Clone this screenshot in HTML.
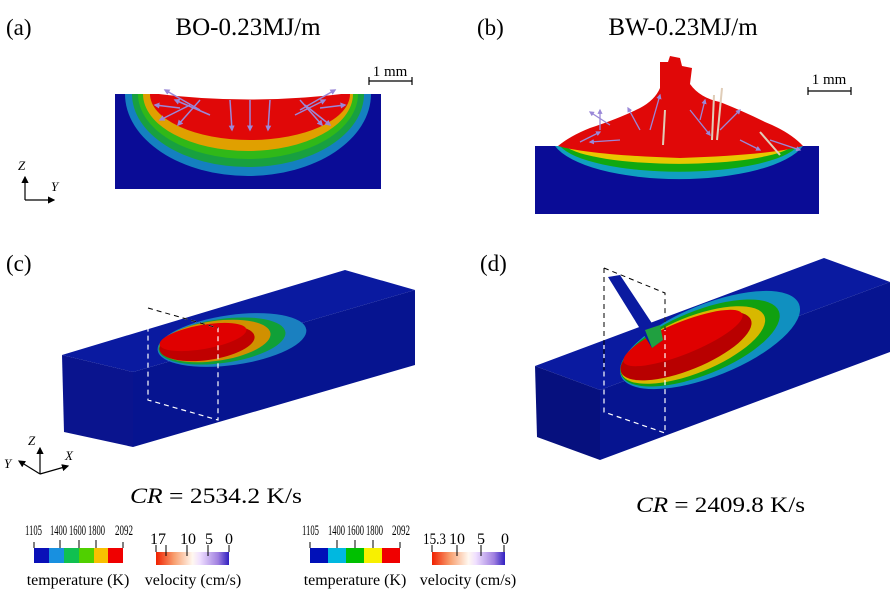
<!DOCTYPE html>
<html><head><meta charset="utf-8"><style>
html,body{margin:0;padding:0;background:#fff}
svg{display:block;font-family:"Liberation Serif",serif}
</style></head><body>
<svg width="892" height="592" viewBox="0 0 892 592">
<defs>
<linearGradient id="velA" x1="0" x2="1"><stop offset="0" stop-color="#f02000"/><stop offset="0.25" stop-color="#f8a070"/><stop offset="0.5" stop-color="#fff8f0"/><stop offset="0.6" stop-color="#f0e0ff"/><stop offset="0.85" stop-color="#a080e0"/><stop offset="1" stop-color="#3020c0"/></linearGradient>
<marker id="ah" markerWidth="6" markerHeight="6" refX="5" refY="3" orient="auto"><path d="M0,0L6,3L0,6z" fill="#000"/></marker>
<marker id="la" markerWidth="4" markerHeight="4" refX="3" refY="2" orient="auto"><path d="M0,0L4,2L0,4z" fill="#9a88d8"/></marker>
</defs>

<text x="6" y="35" font-size="23">(a)</text>
<text x="477" y="35" font-size="23">(b)</text>
<text x="6" y="271" font-size="23">(c)</text>
<text x="480" y="271" font-size="23">(d)</text>
<text x="248" y="35" font-size="25" text-anchor="middle">BO-0.23MJ/m</text>
<text x="683" y="35" font-size="25" text-anchor="middle">BW-0.23MJ/m</text>

<g>
<rect x="115" y="94" width="266" height="95" fill="#0a0c96"/>
<path d="M125,94 A123,82 0 0 0 371,94Z" fill="#1480c0"/>
<path d="M132,94 A116,73 0 0 0 364,94Z" fill="#18a040"/>
<path d="M138,94 A110,65 0 0 0 358,94Z" fill="#30b818"/>
<path d="M143,94 A105,57 0 0 0 353,94Z" fill="#e0a000"/>
<path d="M150,94 A100,46 0 0 0 350,94Z" fill="#e00808"/>
<path d="M150,93 Q250,106 350,93Z" fill="#fff"/>
<g stroke="#9a88d8" stroke-width="1.5" marker-end="url(#la)">
<line x1="200" y1="110" x2="165" y2="90"/><line x1="210" y1="115" x2="175" y2="100"/><line x1="190" y1="105" x2="160" y2="120"/>
<line x1="300" y1="110" x2="335" y2="90"/><line x1="295" y1="115" x2="325" y2="100"/><line x1="305" y1="105" x2="330" y2="125"/>
<line x1="180" y1="108" x2="155" y2="105"/><line x1="320" y1="108" x2="345" y2="105"/>
<line x1="230" y1="100" x2="232" y2="130"/><line x1="250" y1="100" x2="250" y2="130"/><line x1="270" y1="100" x2="268" y2="130"/>
<line x1="200" y1="100" x2="178" y2="125"/><line x1="300" y1="100" x2="322" y2="125"/>
</g>
</g>
<g>
<text x="390" y="76" font-size="15" text-anchor="middle">1 mm</text>
<path d="M369,81H412M369,77V85M412,77V85" stroke="#000" stroke-width="1.2"/>
</g>
<g stroke="#000" stroke-width="1.2">
<line x1="25" y1="200" x2="25" y2="177" marker-end="url(#ah)"/>
<line x1="25" y1="200" x2="54" y2="200" marker-end="url(#ah)"/>
<text x="18" y="170" font-size="13" font-style="italic" stroke="none">Z</text>
<text x="51" y="191" font-size="13" font-style="italic" stroke="none">Y</text>
</g>

<g>
<rect x="535" y="146" width="284" height="68" fill="#0a0c96"/>
<path d="M555,146 A128,44 0 0 0 803,146Z" fill="#10a0c0"/>
<path d="M560,146 A122,33 0 0 0 798,146Z" fill="#10a810"/>
<path d="M565,146 A117,23 0 0 0 793,146Z" fill="#e8c800"/>
<path d="M558,146 Q570,136 590,128 Q620,118 640,108 Q655,100 660,88 L660,62 668,62 670,56 680,58 682,66 692,68 690,84 Q700,98 720,102 Q745,112 765,122 Q790,132 803,146 Q770,155 680,158 Q590,155 558,146Z" fill="#e00808"/>
<g stroke="#9a88d8" stroke-width="1.3" marker-end="url(#la)">
<line x1="600" y1="130" x2="600" y2="110"/><line x1="610" y1="125" x2="590" y2="112"/><line x1="640" y1="130" x2="628" y2="108"/>
<line x1="620" y1="140" x2="590" y2="142"/><line x1="650" y1="130" x2="660" y2="95"/><line x1="700" y1="120" x2="705" y2="100"/>
<line x1="720" y1="130" x2="740" y2="110"/><line x1="740" y1="140" x2="760" y2="150"/><line x1="690" y1="110" x2="710" y2="135"/>
<line x1="770" y1="140" x2="800" y2="150"/><line x1="580" y1="142" x2="600" y2="132"/>
</g>
<g stroke="#e0cdb8" stroke-width="2">
<line x1="663" y1="145" x2="665" y2="110"/><line x1="717" y1="140" x2="722" y2="88"/><line x1="712" y1="140" x2="714" y2="95"/><line x1="760" y1="132" x2="780" y2="155"/>
</g>
</g>
<g>
<text x="829" y="84" font-size="15" text-anchor="middle">1 mm</text>
<path d="M808,91H851M808,87V95M851,87V95" stroke="#000" stroke-width="1.2"/>
</g>

<g>
<polygon points="62,355 345,270 415,290 133,372" fill="#0a1aa0"/>
<polygon points="62,355 133,372 133,447 64,432" fill="#0a148e"/>
<polygon points="133,372 415,290 415,365 133,447" fill="#061490"/>
<ellipse cx="232" cy="340" rx="75" ry="25" transform="rotate(-8 232 340)" fill="#1a80c0"/>
<ellipse cx="222" cy="341" rx="64" ry="22" transform="rotate(-8 222 341)" fill="#10a038"/>
<ellipse cx="215" cy="341" rx="56" ry="20" transform="rotate(-8 215 341)" fill="#d09000"/>
<ellipse cx="207" cy="343" rx="48" ry="17" transform="rotate(-8 207 343)" fill="#c00000"/>
<ellipse cx="203" cy="337" rx="44" ry="12" transform="rotate(-10 203 337)" fill="#e00000"/>
<path d="M148,308 L218,328 L218,420 L148,400Z" fill="none" stroke="#fff" stroke-width="1.2" stroke-dasharray="5,4"/>
<path d="M148,308 L218,328" stroke="#000" stroke-width="1" stroke-dasharray="5,4"/>
</g>
<g stroke="#000" stroke-width="1.2">
<line x1="40" y1="474" x2="40" y2="448" marker-end="url(#ah)"/>
<line x1="40" y1="474" x2="19" y2="461" marker-end="url(#ah)"/>
<line x1="40" y1="474" x2="68" y2="466" marker-end="url(#ah)"/>
<text x="28" y="445" font-size="13" font-style="italic" stroke="none">Z</text>
<text x="4" y="468" font-size="13" font-style="italic" stroke="none">Y</text>
<text x="65" y="460" font-size="13" font-style="italic" stroke="none">X</text>
</g>
<text x="130" y="503" font-size="22" textLength="172" lengthAdjust="spacingAndGlyphs"><tspan font-style="italic">CR</tspan> = 2534.2 K/s</text>

<g>
<polygon points="535,366 824,258 890,282 600,390" fill="#0a1aa0"/>
<polygon points="535,366 600,390 600,460 537,437" fill="#06107e"/>
<polygon points="600,390 890,282 890,352 600,460" fill="#061490"/>
<ellipse cx="710" cy="340" rx="96" ry="36" transform="rotate(-22 710 340)" fill="#1090c0"/>
<ellipse cx="700" cy="343" rx="85" ry="32" transform="rotate(-22 700 343)" fill="#10a010"/>
<ellipse cx="693" cy="345" rx="77" ry="28" transform="rotate(-22 693 345)" fill="#d8b800"/>
<ellipse cx="686" cy="346" rx="70" ry="24" transform="rotate(-22 686 346)" fill="#b80000"/>
<ellipse cx="683" cy="338" rx="64" ry="16" transform="rotate(-22 683 338)" fill="#e00000"/>
<path d="M608,277 L620,275 L663,340 L652,348Z" fill="#0a1aa0"/>
<path d="M645,330 L660,325 L663,340 L652,348Z" fill="#20a040"/>
<path d="M604,268 L665,293 L665,433 L604,412Z" fill="none" stroke="#fff" stroke-width="1.2" stroke-dasharray="5,4"/>
<path d="M604,268 L665,293 L665,330 M604,268 L604,370" fill="none" stroke="#000" stroke-width="1" stroke-dasharray="5,4"/>
</g>
<text x="636" y="512" font-size="22" textLength="169" lengthAdjust="spacingAndGlyphs"><tspan font-style="italic">CR</tspan> = 2409.8 K/s</text>

<g font-size="15">
<rect x="34" y="548" width="15" height="15" fill="#0a10b8"/><rect x="49" y="548" width="15" height="15" fill="#1890e0"/>
<rect x="64" y="548" width="15" height="15" fill="#10c050"/><rect x="79" y="548" width="15" height="15" fill="#50d000"/>
<rect x="94" y="548" width="14" height="15" fill="#f8c000"/><rect x="108" y="548" width="15" height="15" fill="#f00000"/>
<path d="M34,542V548M60,540V548M79,540V548M96,540V548M123,542V548" stroke="#000"/>
<text x="25" y="535" textLength="17" lengthAdjust="spacingAndGlyphs">1105</text><text x="50" y="535" textLength="17" lengthAdjust="spacingAndGlyphs">1400</text>
<text x="69" y="535" textLength="17" lengthAdjust="spacingAndGlyphs">1600</text><text x="88" y="535" textLength="17" lengthAdjust="spacingAndGlyphs">1800</text><text x="115" y="535" textLength="18" lengthAdjust="spacingAndGlyphs">2092</text>
<text x="78" y="585" font-size="16" text-anchor="middle">temperature (K)</text>
</g>
<g font-size="16">
<rect x="156" y="552" width="73" height="13" fill="url(#velA)"/>
<path d="M156,545V552M166,545V556M187,545V556M208,545V556M229,545V552" stroke="#000"/>
<text x="158" y="544" text-anchor="middle">17</text><text x="188" y="544" text-anchor="middle">10</text>
<text x="209" y="544" text-anchor="middle">5</text><text x="229" y="544" text-anchor="middle">0</text>
<text x="193" y="585" font-size="16" text-anchor="middle">velocity (cm/s)</text>
</g>
<g font-size="15">
<rect x="310" y="548" width="18" height="15" fill="#0010b8"/><rect x="328" y="548" width="18" height="15" fill="#00b8e0"/>
<rect x="346" y="548" width="18" height="15" fill="#00c000"/><rect x="364" y="548" width="18" height="15" fill="#f8f000"/>
<rect x="382" y="548" width="18" height="15" fill="#f00000"/>
<path d="M310,542V548M337,540V548M355,540V548M373,540V548M400,542V548" stroke="#000"/>
<text x="302" y="535" textLength="17" lengthAdjust="spacingAndGlyphs">1105</text><text x="328" y="535" textLength="17" lengthAdjust="spacingAndGlyphs">1400</text>
<text x="347" y="535" textLength="17" lengthAdjust="spacingAndGlyphs">1600</text><text x="366" y="535" textLength="17" lengthAdjust="spacingAndGlyphs">1800</text><text x="392" y="535" textLength="18" lengthAdjust="spacingAndGlyphs">2092</text>
<text x="355" y="585" font-size="16" text-anchor="middle">temperature (K)</text>
</g>
<g font-size="16">
<rect x="432" y="552" width="73" height="13" fill="url(#velA)"/>
<path d="M432,545V552M457,545V556M481,545V556M504,545V552" stroke="#000"/>
<text x="423" y="544" textLength="23" lengthAdjust="spacingAndGlyphs">15.3</text><text x="457" y="544" text-anchor="middle">10</text>
<text x="481" y="544" text-anchor="middle">5</text><text x="505" y="544" text-anchor="middle">0</text>
<text x="468" y="585" font-size="16" text-anchor="middle">velocity (cm/s)</text>
</g>
</svg>
</body></html>
